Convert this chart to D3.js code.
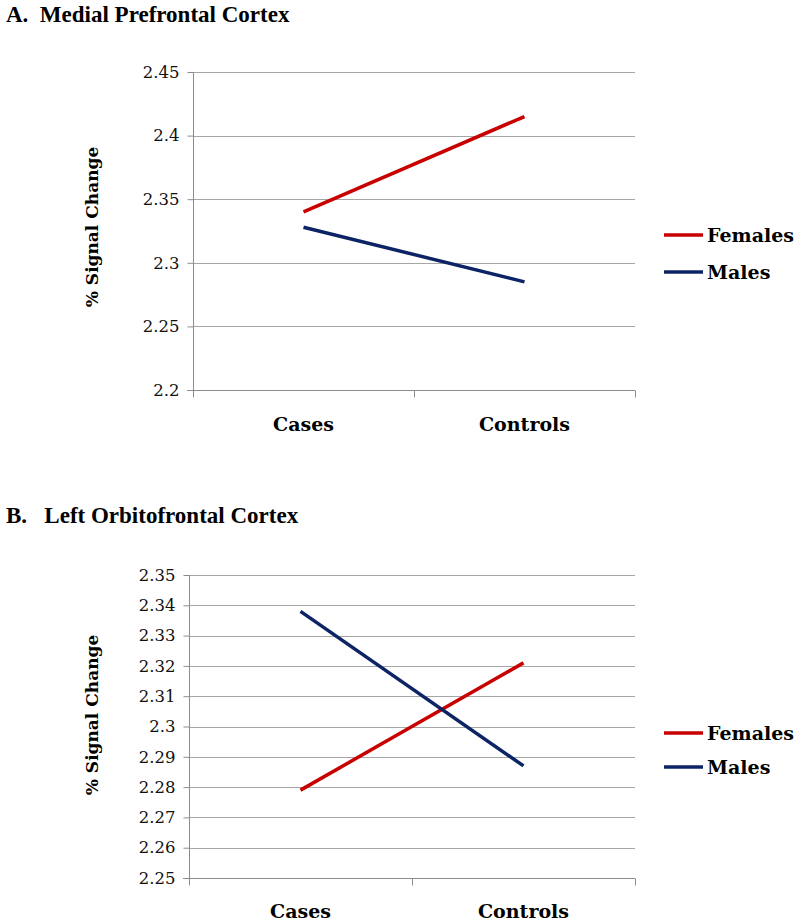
<!DOCTYPE html>
<html><head><meta charset="utf-8">
<script src="https://cdn.jsdelivr.net/npm/d3@7"></script>
<style>
body{margin:0;background:#fff;}
svg{display:block;}
</style></head>
<body>
<svg id="chart" width="800" height="924"></svg>
<script>
const categories = ["Cases", "Controls"];
const seriesNames = ["Females", "Males"];
const mpfcFemales = [2.340, 2.415];
const mpfcMales = [2.328, 2.285];
const lofcFemales = [2.279, 2.321];
const lofcMales = [2.338, 2.287];
const mpfcTicks = [2.2, 2.25, 2.3, 2.35, 2.4, 2.45];
const lofcTicks = [2.25, 2.26, 2.27, 2.28, 2.29, 2.3, 2.31, 2.32, 2.33, 2.34, 2.35];
const panelTitles = ["A.  Medial Prefrontal Cortex", "B.   Left Orbitofrontal Cortex"];
const yLabel = "% Signal Change";

const colors = {Females: "#c80000", Males: "#0c2466"};
const svg = d3.select("#chart");
const serifBody = "'DejaVu Serif', serif";
const serifTitle = "'Liberation Serif', 'Times New Roman', serif";

const panels = [
  {title: panelTitles[0], titleY: 22, x0: 193, x1: 635, yTop: 72, yBot: 390,
   ticks: mpfcTicks, series: [mpfcFemales, mpfcMales], catY: 431, legY: [235, 272], ylabY: 227},
  {title: panelTitles[1], titleY: 523, x0: 189, x1: 635, yTop: 575, yBot: 878,
   ticks: lofcTicks, series: [lofcFemales, lofcMales], catY: 918, legY: [733, 767], ylabY: 715}
];

panels.forEach(p => {
  const g = svg.append("g");
  g.append("text").attr("x", 6).attr("y", p.titleY)
    .attr("font-family", serifTitle).attr("font-weight", "bold").attr("font-size", 23)
    .attr("xml:space", "preserve").style("white-space", "pre")
    .text(p.title);

  const x = d3.scalePoint().domain(categories).range([p.x0, p.x1]).padding(0.5);
  const y = d3.scaleLinear().domain([d3.min(p.ticks), d3.max(p.ticks)]).range([p.yBot, p.yTop]);

  // gridlines
  g.append("g").selectAll("line").data(p.ticks.slice(1)).join("line")
    .attr("x1", p.x0).attr("x2", p.x1)
    .attr("y1", d => Math.round(y(d)) + 0.5).attr("y2", d => Math.round(y(d)) + 0.5)
    .attr("stroke", "#a6a6a6").attr("stroke-width", 1);

  // y axis
  const yAxis = d3.axisLeft(y).tickValues(p.ticks).tickSize(6).tickPadding(8)
    .tickFormat(d => String(+d.toFixed(2)));
  const ya = g.append("g").attr("transform", `translate(${p.x0 + 0.5},0)`).call(yAxis);
  ya.select(".domain").attr("stroke", "#8c8c8c").attr("d", `M0,${p.yTop}V${p.yBot}`);
  ya.selectAll(".tick line").attr("stroke", "#8c8c8c");
  ya.selectAll(".tick text").attr("font-family", serifBody).attr("font-size", 16.5).attr("fill", "#111");

  // x axis
  const xa = g.append("g").attr("transform", `translate(0,${p.yBot + 0.5})`);
  xa.append("line").attr("x1", p.x0 - 6).attr("x2", p.x1).attr("y1", 0).attr("y2", 0)
    .attr("stroke", "#8c8c8c");
  const bandW = x.step();
  const edges = [p.x0, ...categories.map(c => x(c) + bandW / 2)];
  xa.selectAll("line.tk").data(edges).join("line").attr("class", "tk")
    .attr("x1", d => Math.round(d) + 0.5).attr("x2", d => Math.round(d) + 0.5)
    .attr("y1", 0).attr("y2", 7).attr("stroke", "#8c8c8c");
  g.selectAll("text.cat").data(categories).join("text").attr("class", "cat")
    .attr("x", d => x(d)).attr("y", p.catY).attr("text-anchor", "middle")
    .attr("font-family", serifBody).attr("font-weight", "bold").attr("font-size", 19)
    .text(d => d);

  // lines
  const line = d3.line().x((d, i) => x(categories[i])).y(d => y(d));
  p.series.forEach((s, i) => {
    g.append("path").datum(s).attr("d", line).attr("fill", "none")
      .attr("stroke", colors[seriesNames[i]]).attr("stroke-width", 3.5);
  });

  // y label
  g.append("text").attr("transform", `translate(98,${p.ylabY}) rotate(-90)`)
    .attr("text-anchor", "middle").attr("font-family", serifBody).attr("font-weight", "bold")
    .attr("font-size", 17).text(yLabel);

  // legend
  seriesNames.forEach((n, i) => {
    g.append("line").attr("x1", 664).attr("x2", 703).attr("y1", p.legY[i]).attr("y2", p.legY[i])
      .attr("stroke", colors[n]).attr("stroke-width", 3.5);
    g.append("text").attr("x", 707).attr("y", p.legY[i] + 7)
      .attr("font-family", serifBody).attr("font-weight", "bold").attr("font-size", 19)
      .text(n);
  });
});
</script>
</body></html>
